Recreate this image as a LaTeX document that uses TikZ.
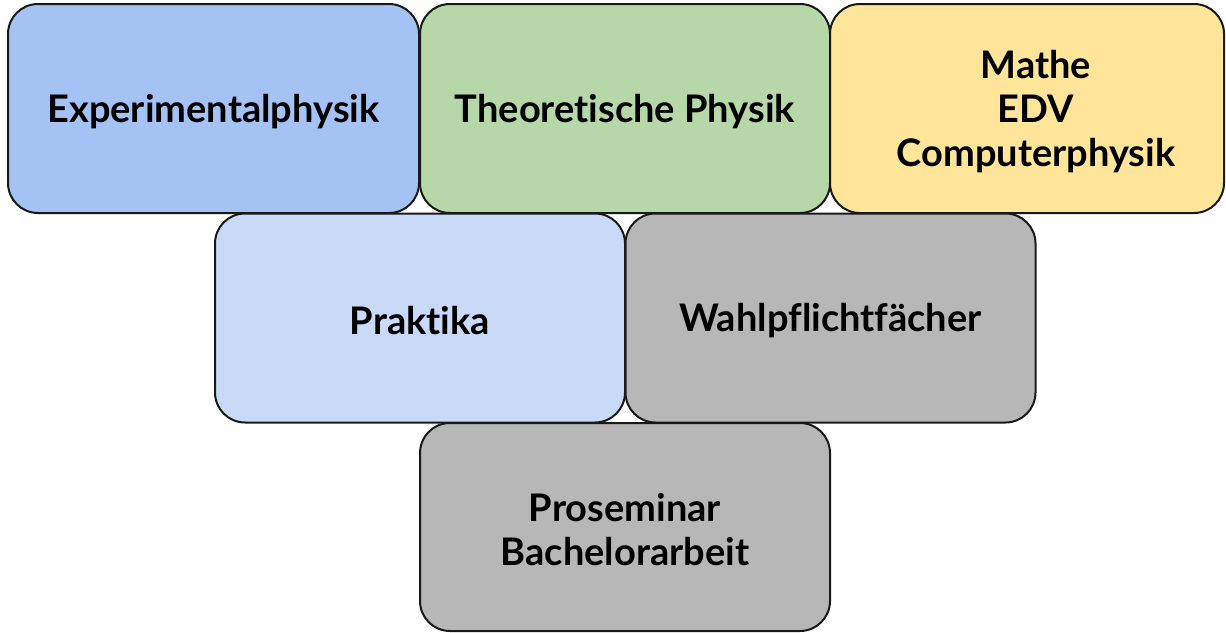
\documentclass[tikz,border=0pt]{standalone}
\usepackage{fontspec}
\setmainfont[Ligatures=NoCommon]{Lato}
\definecolor{expblue}{HTML}{A4C2F4}
\definecolor{theogreen}{HTML}{B6D7A8}
\definecolor{matheyellow}{HTML}{FFE599}
\definecolor{praklight}{HTML}{C9DAF8}
\definecolor{wahlgray}{HTML}{B7B7B7}
\tikzset{
  modbox/.style={draw=black!90, line width=2pt, rounded corners=30pt, minimum height=209pt, inner sep=0pt},
  modtext/.style={align=center, font=\fontsize{38}{44}\selectfont\bfseries}
}
\begin{document}
\begin{tikzpicture}[x=1pt,y=-1pt]
\useasboundingbox (0,0) rectangle (1226,632);

% oberste Reihe
\node[modbox, fill=expblue, minimum width=411pt] (exp) at (213.5,108.5) {};
\node[modbox, fill=theogreen, minimum width=410pt] (theo) at (625,108.5) {};
\node[modbox, fill=matheyellow, minimum width=394pt] (mathe) at (1027,108.5) {};

% mittlere Reihe
\node[modbox, fill=praklight, minimum width=410pt] (prak) at (420,318) {};
\node[modbox, fill=wahlgray, minimum width=410pt] (wahl) at (830.5,318) {};

% unterste Reihe
\node[modbox, fill=wahlgray, minimum width=410pt, minimum height=208pt] (bach) at (625,527) {};

% Beschriftungen
\node[modtext] (exptxt) at ([yshift=-3pt]exp.center) {Experimentalphysik};
\node[modtext] (theotxt) at ([yshift=-3pt]theo.center) {Theoretische Physik};
\node[modtext] (mathetxt) at ([xshift=9pt,yshift=-3pt]mathe.center) {Mathe\\EDV\\Computerphysik};
\node[modtext] (praktxt) at ([yshift=-3pt]prak.center) {Praktika};
\node[modtext] (wahltxt) at ([yshift=-3pt]wahl.center) {Wahlpflichtfächer};
\node[modtext] (bachtxt) at ([yshift=-3pt]bach.center) {Proseminar\\Bachelorarbeit};
\end{tikzpicture}
\end{document}
